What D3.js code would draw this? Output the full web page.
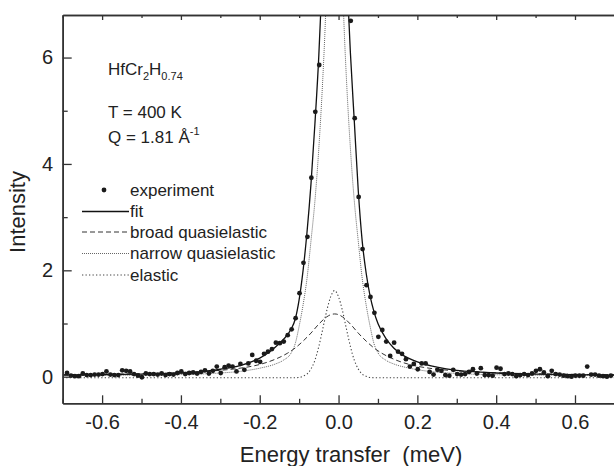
<!DOCTYPE html>
<html>
<head>
<meta charset="utf-8">
<script src="https://cdn.jsdelivr.net/npm/d3@7"></script>
<style>
  body { margin: 0; background: #fff; }
  svg { display: block; font-family: "Liberation Sans", Arial, sans-serif; }
</style>
</head>
<body>
<div id="chart-area"></div>
<script>
// experiment (points hidden above the frame are left out)
var expEnergy = [
  -0.689,-0.679,-0.669,-0.659,-0.649,-0.639,-0.629,-0.619,-0.609,-0.599,
  -0.589,-0.579,-0.569,-0.559,-0.549,-0.539,-0.529,-0.519,-0.509,-0.499,
  -0.489,-0.479,-0.469,-0.459,-0.449,-0.439,-0.429,-0.419,-0.409,-0.399,
  -0.389,-0.379,-0.369,-0.359,-0.349,-0.339,-0.329,-0.319,-0.309,-0.299,
  -0.289,-0.279,-0.269,-0.259,-0.249,-0.239,-0.229,-0.219,-0.209,-0.199,
  -0.189,-0.179,-0.169,-0.159,-0.149,-0.139,-0.129,-0.119,-0.109,-0.099,
  -0.089,-0.079,-0.069,-0.059,-0.049,
  0.031,0.041,0.051,0.061,0.071,0.081,0.091,0.101,0.111,0.121,
  0.131,0.141,0.151,0.161,0.171,0.181,0.191,0.201,0.211,0.221,
  0.231,0.241,0.251,0.261,0.271,0.281,0.291,0.301,0.311,0.321,
  0.331,0.341,0.351,0.361,0.371,0.381,0.391,0.401,0.411,0.421,
  0.431,0.441,0.451,0.461,0.471,0.481,0.491,0.501,0.511,0.521,
  0.531,0.541,0.551,0.561,0.571,0.581,0.591,0.601,0.611,0.621,
  0.631,0.641,0.651,0.661,0.671,0.681,0.691
];
var expIntensity = [
  0.07,0.02,0.01,0.01,0.06,0.03,0.03,0.04,0.04,0.05,
  0.10,0.04,0.03,0.03,0.12,0.11,0.10,0.05,0.02,-0.01,
  0.06,0.05,0.05,0.04,0.06,0.03,0.05,0.04,0.07,0.10,
  0.05,0.07,0.08,0.06,0.09,0.12,0.06,0.11,0.19,0.07,
  0.18,0.21,0.19,0.10,0.24,0.13,0.25,0.41,0.30,0.28,
  0.43,0.47,0.52,0.64,0.63,0.66,0.78,0.89,1.10,1.57,
  2.14,2.63,3.74,4.98,5.86,
  6.69,4.86,3.38,2.40,1.72,1.50,1.20,0.75,0.88,0.66,
  0.39,0.64,0.47,0.43,0.33,0.19,0.24,0.14,0.25,0.25,
  0.09,0.04,0.13,0.11,0.03,0.02,0.13,0.05,0.04,0.05,
  0.09,0.14,0.06,0.16,0.03,0.03,0.02,0.17,0.15,0.05,
  0.06,0.05,0.01,0.03,0.05,0.03,0.06,0.11,0.14,0.08,
  0.01,0.11,0.05,0.04,0.02,0.01,0.00,0.02,0.02,0.02,
  0.19,0.04,0.04,0.02,0.01,0.00,0.02
];

var fitEnergy = [-0.70,-0.60,-0.50,-0.40,-0.35,-0.30,-0.25,-0.20,-0.18,-0.16,-0.14,-0.12,-0.11,-0.10,-0.09,-0.08,-0.07,-0.06,-0.05,-0.045,-0.04,-0.01,
  0.02,0.025,0.03,0.04,0.05,0.06,0.07,0.08,0.09,0.10,0.12,0.14,0.16,0.18,0.20,0.25,0.30,0.35,0.40,0.50,0.60,0.70];
var fitIntensity = [0.03,0.04,0.05,0.07,0.09,0.14,0.21,0.35,0.44,0.56,0.70,0.90,1.08,1.45,2.0,2.72,3.62,4.75,6.05,6.9,7.8,14,
  7.8,6.9,6.1,4.8,3.5,2.55,1.95,1.52,1.22,1.0,0.72,0.54,0.42,0.34,0.28,0.18,0.12,0.09,0.07,0.05,0.04,0.03];

var broadEnergy = [-0.70,-0.60,-0.50,-0.40,-0.35,-0.30,-0.25,-0.20,-0.16,-0.13,-0.11,-0.09,-0.07,-0.05,-0.03,-0.02,-0.01,
  0.00,0.01,0.03,0.05,0.07,0.09,0.11,0.14,0.18,0.23,0.28,0.33,0.38,0.48,0.58,0.68,0.70];
var broadIntensity = [0.039,0.046,0.058,0.079,0.096,0.12,0.16,0.23,0.33,0.44,0.54,0.67,0.82,0.99,1.125,1.166,1.18,
  1.166,1.125,0.99,0.82,0.67,0.54,0.44,0.33,0.23,0.16,0.12,0.096,0.079,0.058,0.046,0.039,0.038];

var narrowEnergy = [-0.70,-0.60,-0.50,-0.40,-0.35,-0.30,-0.25,-0.20,-0.16,-0.14,-0.12,-0.11,-0.10,-0.09,-0.08,-0.07,-0.06,-0.05,-0.04,-0.035,-0.03,-0.01,
  0.01,0.015,0.02,0.03,0.04,0.05,0.06,0.07,0.08,0.09,0.10,0.12,0.14,0.18,0.23,0.28,0.33,0.38,0.48,0.58,0.70];
var narrowIntensity = [0.02,0.025,0.03,0.04,0.05,0.07,0.10,0.16,0.24,0.31,0.45,0.62,0.95,1.35,1.85,2.55,3.30,4.30,5.60,6.40,7.40,11,
  7.40,6.40,5.60,4.30,3.30,2.55,1.85,1.35,0.95,0.62,0.45,0.31,0.24,0.16,0.10,0.07,0.05,0.04,0.03,0.025,0.02];

var elasticEnergy = [-0.70,-0.12,-0.10,-0.09,-0.08,-0.07,-0.06,-0.05,-0.04,-0.03,-0.02,-0.01,0.00,0.01,0.02,0.03,0.04,0.05,0.06,0.07,0.08,0.10,0.70];
var elasticIntensity = [-0.02,-0.02,-0.015,0.01,0.05,0.145,0.31,0.57,0.90,1.24,1.50,1.62,1.50,1.24,0.90,0.57,0.31,0.145,0.05,0.01,-0.015,-0.02,-0.02];

var xMajor = [-0.6,-0.4,-0.2,0.0,0.2,0.4,0.6];
var xMinor = [-0.7,-0.5,-0.3,-0.1,0.1,0.3,0.5,0.7];
var yMajor = [0,2,4,6];
var yMinor = [1,3,5];

var legendNames = ["experiment","fit","broad quasielastic","narrow quasielastic","elastic"];

var W = 614, H = 466;
var padL = 62.7, padR = 614.4, padT = 15, padB = 403.3;

var svg = d3.select("#chart-area").append("svg")
  .attr("width", W)
  .attr("height", H)
  .style("background-color", "white");

var x = d3.scaleLinear().domain([-0.7, 0.7]).range([padL, padR]);
var y = d3.scaleLinear().domain([-0.5, 6.8]).range([padB, padT]);

svg.append("clipPath").attr("id", "clip")
  .append("rect")
  .attr("x", padL).attr("y", padT)
  .attr("width", padR - padL).attr("height", padB - padT);

var plot = svg.append("g").attr("clip-path", "url(#clip)");

function pairs(xs, ys) { return xs.map((e, i) => [e, ys[i]]); }

var line = d3.line()
  .x(d => x(d[0]))
  .y(d => y(d[1]))
  .curve(d3.curveMonotoneX);

var styles = {
  fit:     { stroke: "#111", width: 1.3, dash: null },
  broad:   { stroke: "#333", width: 1.0, dash: "5,3" },
  narrow:  { stroke: "#666", width: 1.0, dash: "1,1" },
  elastic: { stroke: "#444", width: 1.1, dash: "1.3,2.2" }
};

function drawCurve(data, st) {
  plot.append("path")
    .datum(data)
    .attr("d", line)
    .attr("fill", "none")
    .attr("stroke", st.stroke)
    .attr("stroke-width", st.width)
    .attr("stroke-dasharray", st.dash);
}

drawCurve(pairs(elasticEnergy, elasticIntensity), styles.elastic);
drawCurve(pairs(broadEnergy, broadIntensity), styles.broad);
drawCurve(pairs(narrowEnergy, narrowIntensity), styles.narrow);
drawCurve(pairs(fitEnergy, fitIntensity), styles.fit);

plot.selectAll("circle.exp")
  .data(pairs(expEnergy, expIntensity))
  .enter()
  .append("circle")
  .attr("class", "exp")
  .attr("cx", d => x(d[0]))
  .attr("cy", d => y(d[1]))
  .attr("r", 2.4)
  .attr("fill", "#1a1a1a");

// axes
var axisColor = "#333";
var fontTick = 20;

svg.append("g")
  .attr("transform", "translate(0," + padB + ")")
  .call(d3.axisBottom(x).tickValues(xMajor).tickSizeInner(-8).tickSizeOuter(0)
    .tickPadding(11.5).tickFormat(d => d.toFixed(1)));
svg.append("g")
  .attr("transform", "translate(0," + padB + ")")
  .call(d3.axisBottom(x).tickValues(xMinor).tickSizeInner(-4.5).tickSizeOuter(0).tickFormat(""));

svg.append("g")
  .attr("transform", "translate(0," + padT + ")")
  .call(d3.axisTop(x).tickValues(xMajor).tickSizeInner(-5).tickSizeOuter(0).tickFormat(""));
svg.append("g")
  .attr("transform", "translate(0," + padT + ")")
  .call(d3.axisTop(x).tickValues(xMinor).tickSizeInner(-3).tickSizeOuter(0).tickFormat(""));

svg.append("g")
  .attr("transform", "translate(" + padL + ",0)")
  .call(d3.axisLeft(y).tickValues(yMajor).tickSizeInner(-9).tickSizeOuter(0)
    .tickPadding(9.5).tickFormat(d => String(d)));
svg.append("g")
  .attr("transform", "translate(" + padL + ",0)")
  .call(d3.axisLeft(y).tickValues(yMinor).tickSizeInner(-5).tickSizeOuter(0).tickFormat(""));

svg.selectAll(".domain").attr("stroke", axisColor).attr("stroke-width", 1.6);
svg.selectAll(".tick line").attr("stroke", axisColor).attr("stroke-width", 1.3);
svg.selectAll(".tick text")
  .attr("fill", "#222")
  .style("font-size", fontTick + "px")
  .style("font-family", "'Liberation Sans', Arial, sans-serif");

// axis titles
svg.append("text")
  .attr("x", 351).attr("y", 462)
  .attr("text-anchor", "middle")
  .attr("fill", "#222")
  .style("font-size", "22px")
  .style("white-space", "pre")
  .text("Energy transfer\u00a0 (meV)");

svg.append("text")
  .attr("transform", "translate(25,212) rotate(-90)")
  .attr("text-anchor", "middle")
  .attr("fill", "#222")
  .style("font-size", "22px")
  .text("Intensity");

// annotation
var note = svg.append("g").attr("fill", "#222").style("font-size", "17px");
var t1 = note.append("text").attr("x", 108).attr("y", 75);
t1.append("tspan").text("HfCr");
t1.append("tspan").attr("dy", 5).style("font-size", "11px").text("2");
t1.append("tspan").attr("dy", -5).text("H");
t1.append("tspan").attr("dy", 5).style("font-size", "11px").text("0.74");

note.append("text").attr("x", 108).attr("y", 118).text("T = 400 K");
var t3 = note.append("text").attr("x", 108).attr("y", 143);
t3.append("tspan").text("Q = 1.81 Å");
t3.append("tspan").attr("dy", -8).style("font-size", "11px").text("-1");

// legend
var legY = [190, 211.5, 232, 253.5, 275];
var legend = svg.append("g").style("font-size", "17px").attr("fill", "#222");
legend.append("circle").attr("cx", 104).attr("cy", legY[0]).attr("r", 2.4).attr("fill", "#1a1a1a");
var keyStyles = [null, styles.fit, styles.broad, styles.narrow, styles.elastic];
keyStyles.forEach((st, i) => {
  if (st) {
    legend.append("line")
      .attr("x1", 82).attr("x2", 129)
      .attr("y1", legY[i]).attr("y2", legY[i])
      .attr("stroke", st.stroke)
      .attr("stroke-width", st.width)
      .attr("stroke-dasharray", st.dash);
  }
  legend.append("text")
    .attr("x", 130).attr("y", legY[i]).attr("dy", "0.35em")
    .text(legendNames[i]);
});
</script>
</body>
</html>
